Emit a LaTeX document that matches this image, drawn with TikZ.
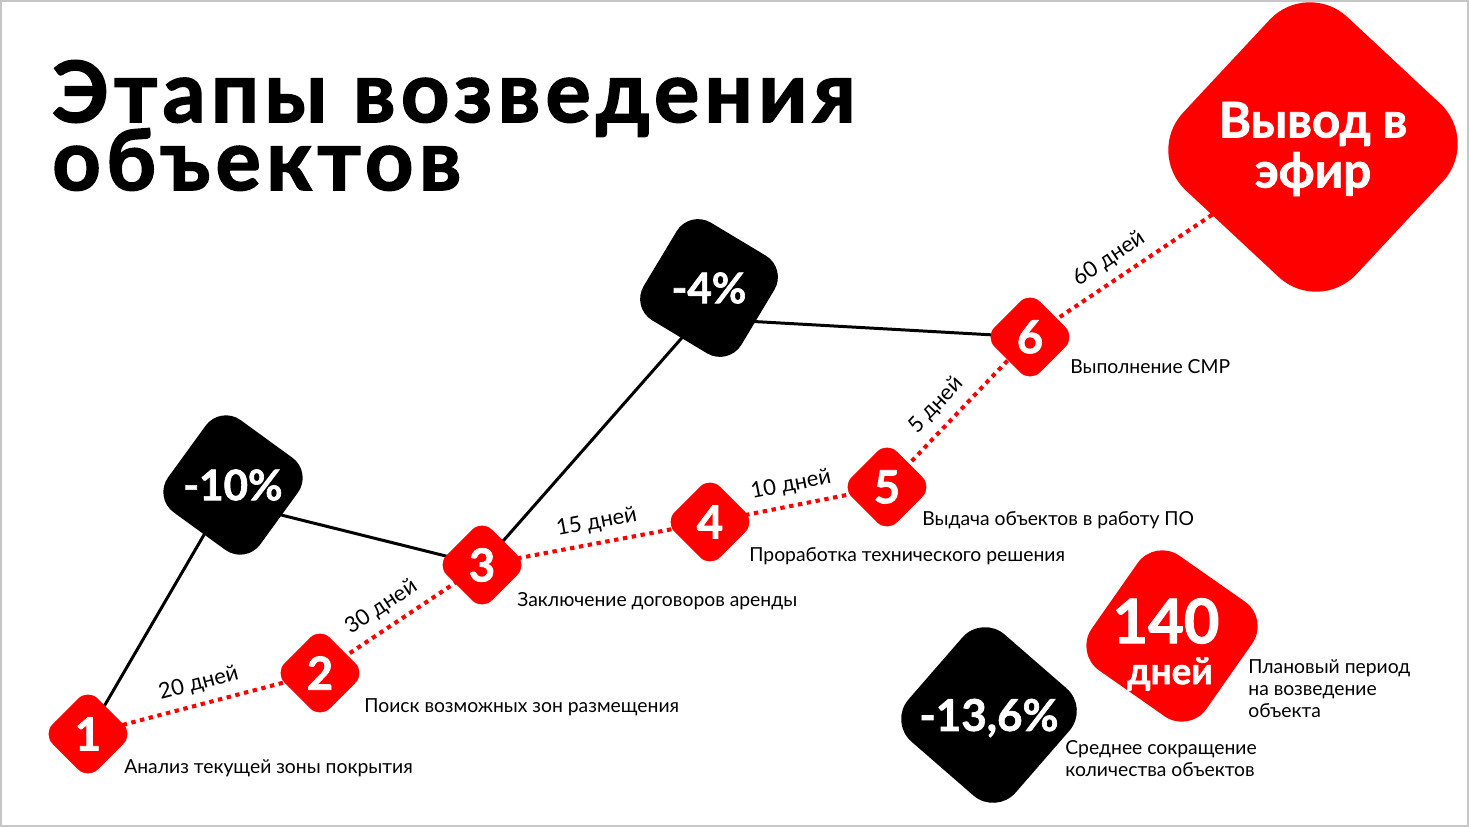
\documentclass[tikz,border=0pt]{standalone}
\usepackage{fontspec}
\setmainfont{Lato}
\newfontfamily\headfont{Lato}[UprightFont=*-Bold,UprightFeatures={FakeBold=2,LetterSpace=6.5}]
\newfontfamily\heavyfont{Lato}[UprightFont=*-Bold,UprightFeatures={FakeBold=1.5}]
\usetikzlibrary{backgrounds}
\definecolor{mtsred}{RGB}{255,0,0}

\begin{document}
\begin{tikzpicture}[x=0.02cm,y=-0.02cm,
    tile/.style={rectangle,inner sep=0pt},
    stepbox/.style={tile,fill=mtsred,rounded corners=0.28cm,minimum size=1.28cm,rotate=45},
    stepnum/.style={text=white,inner sep=0pt,font=\fontsize{26}{26}\heavyfont},
    dropbox/.style={tile,fill=black,rounded corners=0.5cm,minimum size=2.28cm},
    dropnum/.style={text=white,inner sep=0pt,font=\fontsize{24}{24}\heavyfont},
    desc/.style={anchor=west,align=left,inner sep=0pt,font=\fontsize{11}{12.5}\selectfont},
    term/.style={text=black,inner sep=0pt,above=5pt,sloped,font=\fontsize{12.5}{12.5}\selectfont},
    plan/.style={mtsred,line width=2.3pt,dash pattern=on 2.5pt off 2.6pt},
    link/.style={black,line width=1.7pt}]
    \useasboundingbox (0,0) rectangle (1469,827);
    % title
    \node[anchor=base west,inner sep=0pt,font=\fontsize{48}{48}\headfont] (title) at (52,122) {Этапы возведения};
    \node[anchor=base west,inner sep=0pt,font=\fontsize{48}{48}\headfont] (title2) at (52,190) {объектов};
    % steps
    \node[stepbox] (s1) at (88,734) {};
    \node[stepbox] (s2) at (320,673) {};
    \node[stepbox] (s3) at (482,565) {};
    \node[stepbox] (s4) at (710,522) {};
    \node[stepbox] (s5) at (887,487) {};
    \node[stepbox] (s6) at (1030,337) {};
    \node[stepnum] (n1) at (s1) {1};
    \node[stepnum] (n2) at (s2) {2};
    \node[stepnum] (n3) at (s3) {3};
    \node[stepnum] (n4) at (s4) {4};
    \node[stepnum] (n5) at (s5) {5};
    \node[stepnum] (n6) at (s6) {6};
    \node[desc] (d1) at (124,768) {Анализ текущей зоны покрытия};
    \node[desc] (d2) at (364,707) {Поиск возможных зон размещения};
    \node[desc] (d3) at (517,601) {Заключение договоров аренды};
    \node[desc] (d4) at (749,556) {Проработка технического решения};
    \node[desc] (d5) at (922,520) {Выдача объектов в работу ПО};
    \node[desc] (d6) at (1070,367) {Выполнение СМР};
    % drops
    \node[dropbox,rotate=54] (m10) at (233,485) {};
    \node[dropbox,rotate=59] (m4) at (709,288) {};
    \node[dropnum] (m10t) at (m10) {-10\%};
    \node[dropnum] (m4t) at (m4) {-4\%};
    % finish
    \node[tile,fill=mtsred,minimum size=4.74cm,rounded corners=1.1cm,rotate=47] (out) at (1313,147) {};
    \node[text=white,align=center,inner sep=0pt,font=\fontsize{28}{28.5}\heavyfont] (outt) at (1313,149) {Вывод в\\эфир};
    % totals
    \node[dropbox,minimum size=2.84cm,rounded corners=0.6cm,rotate=49] (avg) at (989,715) {};
    \node[dropnum,font=\fontsize{25}{25}\heavyfont] (avgt) at (989,718) {-13,6\%};
    \node[desc] (avgd) at (1065,759) {Среднее сокращение\\количества объектов};
    \node[tile,fill=mtsred,minimum size=2.8cm,rounded corners=0.6cm,rotate=55] (days) at (1172,636) {};
    \node[stepnum,font=\fontsize{35}{35}\heavyfont] (dayst) at (1166,621) {140};
    \node[stepnum,font=\fontsize{21}{21}\heavyfont] (daysu) at (1170,674) {дней};
    \node[desc] (daysd) at (1248,689) {Плановый период\\на возведение\\объекта};
    \begin{pgfonlayer}{background}
      \fill[white] (0,0) rectangle (1469,827);
      \draw[gray!45,line width=1pt] (1,1) rectangle (1468,826);
      \path[link]
        (s1.center) edge (m10.center)
        ([yshift=-0.36cm]m10.center) edge (s3.center)
        (s3.center) edge ([yshift=-0.38cm]m4.center)
        ([yshift=-0.62cm]m4.center) edge (s6.center);
      \path[plan]
        (s1.center) edge node[term,pos=.5] {20 дней} (s2.center)
        (s2.center) edge node[term,pos=.45] {30 дней} (s3.center)
        (s3.center) edge node[term,pos=.52] {15 дней} (s4.center)
        (s4.center) edge node[term,pos=.48] {10 дней} (s5.center)
        (s5.center) edge node[term,pos=.45] {5 дней} (s6.center)
        (s6.center) edge node[term,pos=.32] {60 дней} (out.center);
    \end{pgfonlayer}
\end{tikzpicture}
\end{document}
